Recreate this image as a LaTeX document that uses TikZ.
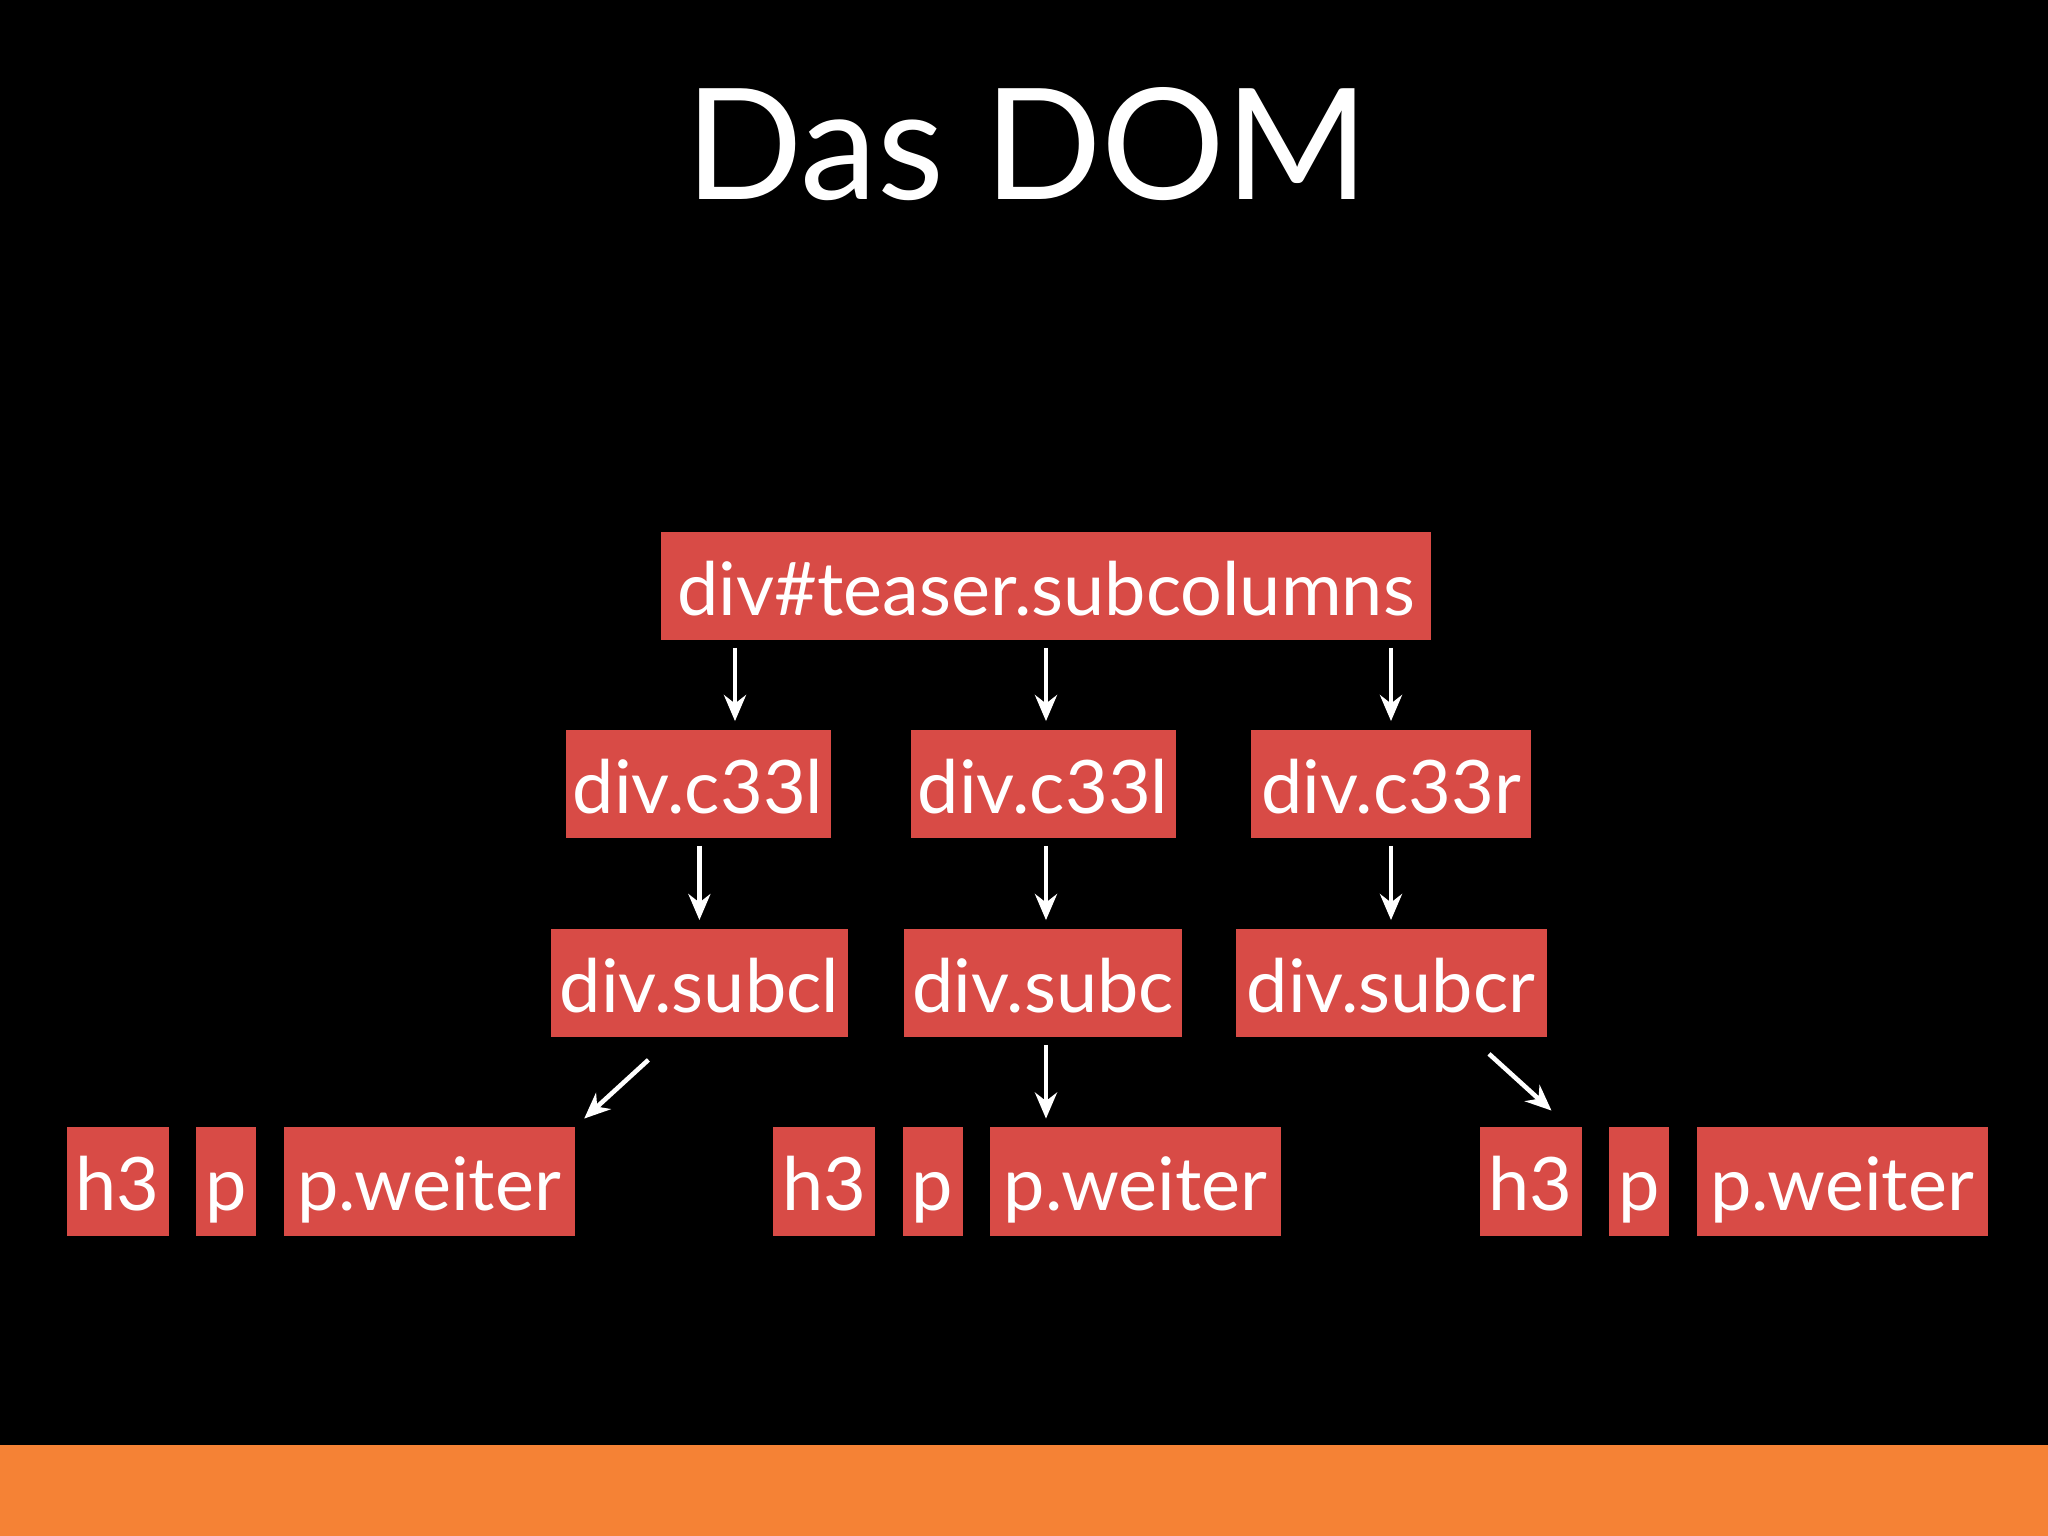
\documentclass[tikz,border=0pt]{standalone}
\usepackage{fontspec}
\setmainfont{Lato}
\usetikzlibrary{arrows.meta}
\definecolor{boxred}{RGB}{216,75,70}
\definecolor{bandorange}{RGB}{245,130,53}
\tikzset{
  tag/.style={fill=boxred, text=white, inner sep=0pt, minimum height=1.084cm,
    text height=0.836cm, text depth=0.248cm, font=\fontsize{21}{25}\selectfont},
  arr/.style={draw=white, line width=1.3pt, -{Stealth[length=2.6mm,width=2.2mm]},
    shorten <=0.07cm, shorten >=0.08cm}
}
\begin{document}
\begin{tikzpicture}
        \fill[black] (0,0) rectangle (20.48,15.36);
        \fill[bandorange] (0,0) rectangle (20.48,0.914);
        \node[anchor=base, text=white, font=\fontsize{44}{50}\selectfont] (title) at (10.27,13.36) {Das DOM};

        \node[tag, minimum width=7.70cm] (root) at (10.46,9.50) {div\#teaser.subcolumns};
        \node[tag, minimum width=2.65cm] (c33la) at (6.98,7.52) {div.c33l};
        \node[tag, minimum width=2.65cm] (c33lb) at (10.43,7.52) {div.c33l};
        \node[tag, minimum width=2.80cm] (c33r) at (13.91,7.52) {div.c33r};
        \node[tag, minimum width=2.965cm] (subcl) at (6.994,5.53) {div.subcl};
        \node[tag, minimum width=2.78cm] (subc) at (10.43,5.53) {div.subc};
        \node[tag, minimum width=3.11cm] (subcr) at (13.91,5.53) {div.subcr};
        \foreach \g/\dx in {a/0,b/7.065,c/14.13}
        {
                \node[tag, minimum width=1.02cm] (h3\g) at ({1.175+\dx},3.545) {h3};
                \node[tag, minimum width=0.60cm] (p\g) at ({2.26+\dx},3.545) {p};
                \node[tag, minimum width=2.91cm] (pw\g) at ({4.29+\dx},3.545) {p.weiter};
        }

        \draw[arr] ([xshift=3.7mm]c33la.north |- root.south) -- ([xshift=3.7mm]c33la.north);
        \draw[arr] (root.south) -- (root.south |- c33lb.north);
        \draw[arr] (c33r.north |- root.south) -- (c33r.north);
        \draw[arr] (subcl.north |- c33la.south) -- (subcl.north);
        \draw[arr] (root.south |- c33lb.south) -- (root.south |- subc.north);
        \draw[arr] (c33r.south) -- (subcr.north);
        \draw[arr, shorten <=0pt, shorten >=0pt] ([xshift=-5.1mm,yshift=-2.2mm]subcl.south) -- ([xshift=0.9mm,yshift=0.8mm]pwa.north east);
        \draw[arr] (root.south |- subc.south) -- (root.south |- pwb.north);
        \draw[arr, shorten <=0pt, shorten >=0pt] ([xshift=9.8mm,yshift=-1.6mm]subcr.south) -- ([xshift=2.1mm,yshift=1.6mm]h3c.north);
\end{tikzpicture}
\end{document}
